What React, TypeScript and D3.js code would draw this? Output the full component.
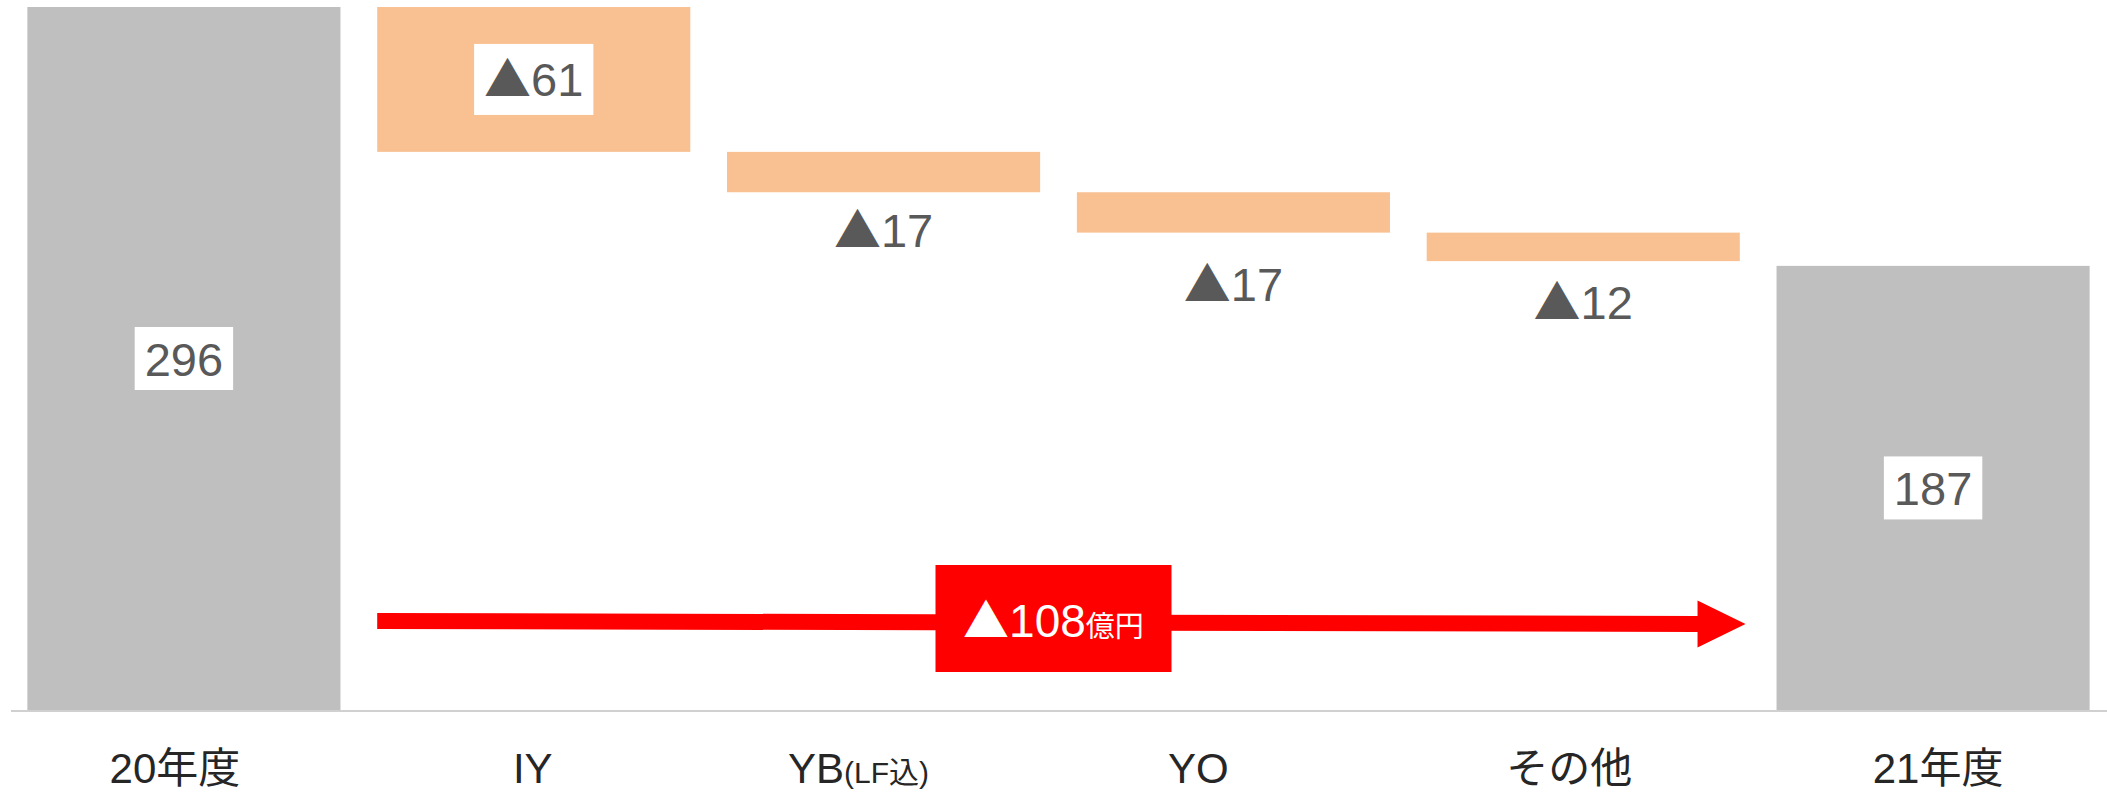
import React, { useEffect, useRef } from "react";
import * as d3 from "d3";

// ---- data ----
const categoryMain = ["20年度", "IY", "YB", "YO", "その他", "21年度"];
const categorySub = ["", "", "(LF込)", "", "", ""];
const startValue = 296;
const deltas = [-61, -17, -17, -12];
const endValue = 187;
const totalChange = -108;
const totalUnit = "億円";

// ---- layout tweaks (pixels) ----
const W = 2107;
const H = 792;
const labelDx = [-9, -1, -25, -35, -14, 5];
const deltaLabelDy = [0, 55, 68, 58];
const FONT = "'Liberation Sans', Arial, 'Noto Sans CJK JP', sans-serif";
const TRI_FONT = "'Noto Sans CJK JP', 'Liberation Sans', sans-serif";

function writeValue(t: any, v: number, size: number) {
  if (v < 0) {
    t.append("tspan").attr("font-family", TRI_FONT).attr("font-size", size).text("▲");
    t.append("tspan").attr("font-size", size).text(String(Math.abs(v)));
  } else {
    t.append("tspan").attr("font-size", size).text(String(v));
  }
}

export default function App() {
  const ref = useRef<SVGSVGElement>(null);

  useEffect(() => {
    const svg = d3.select(ref.current);
    svg.selectAll("*").remove();

    const x = d3
      .scaleBand<string>()
      .domain(categoryMain)
      .range([9, 2108])
      .paddingInner(0.105)
      .paddingOuter(0.0525);
    const y = d3.scaleLinear().domain([0, startValue]).range([710, 7]);
    const bw = x.bandwidth();

    type Seg = { cat: string; y0: number; y1: number; kind: string; value: number };
    const segs: Seg[] = [];
    segs.push({ cat: categoryMain[0], y0: 0, y1: startValue, kind: "total", value: startValue });
    let run = startValue;
    deltas.forEach((d, i) => {
      segs.push({ cat: categoryMain[i + 1], y0: run + d, y1: run, kind: "delta", value: d });
      run += d;
    });
    segs.push({ cat: categoryMain[5], y0: 0, y1: endValue, kind: "total", value: endValue });

    // baseline
    svg
      .append("line")
      .attr("x1", 11)
      .attr("x2", W)
      .attr("y1", y(0) + 1)
      .attr("y2", y(0) + 1)
      .attr("stroke", "#d0d0d0")
      .attr("stroke-width", 2);

    // bars
    svg
      .selectAll("rect.bar")
      .data(segs)
      .enter()
      .append("rect")
      .attr("class", "bar")
      .attr("x", (d) => x(d.cat)!)
      .attr("width", bw)
      .attr("y", (d) => y(d.y1))
      .attr("height", (d) => y(d.y0) - y(d.y1))
      .attr("fill", (d) => (d.kind === "total" ? "#bfbfbf" : "#f9c191"));

    // value labels
    segs.forEach((d, i) => {
      const cx = x(d.cat)! + bw / 2;
      const inside = d.kind === "total" || i === 1;
      const g = svg.append("g");
      const ty = inside ? (y(d.y0) + y(d.y1)) / 2 + 17 : y(d.y0) + deltaLabelDy[i - 1];
      const t = g
        .append("text")
        .attr("x", cx)
        .attr("y", ty)
        .attr("text-anchor", "middle")
        .attr("font-family", FONT)
        .attr("fill", "#595959");
      writeValue(t, d.value, 47);
      if (inside) {
        const bb = (t.node() as SVGTextElement).getBBox();
        const padX = 10;
        const boxH = d.kind === "delta" ? 71 : 63;
        g.insert("rect", "text")
          .attr("x", bb.x - padX)
          .attr("width", bb.width + padX * 2)
          .attr("y", (y(d.y0) + y(d.y1)) / 2 - boxH / 2)
          .attr("height", boxH)
          .attr("fill", "#ffffff");
      }
    });

    // category labels
    categoryMain.forEach((c, i) => {
      const t = svg
        .append("text")
        .attr("x", x(c)! + bw / 2 + labelDx[i])
        .attr("y", 783)
        .attr("text-anchor", "middle")
        .attr("font-family", FONT)
        .attr("font-size", 42)
        .attr("fill", "#262626");
      t.append("tspan").text(c);
      if (categorySub[i]) t.append("tspan").attr("font-size", 30).text(categorySub[i]);
    });

    // red arrow for total change
    const ax0 = x(categoryMain[1])!;
    const axTip = x(categoryMain[5])! - 31;
    const headLen = 48;
    const ay0 = 621;
    const ay1 = 624;
    const sh = 8;
    const hh = 23.5;
    const axBase = axTip - headLen;
    const pts: [number, number][] = [
      [ax0, ay0 - sh],
      [axBase, ay1 - sh],
      [axBase, ay1 - hh],
      [axTip, ay1],
      [axBase, ay1 + hh],
      [axBase, ay1 + sh],
      [ax0, ay0 + sh],
    ];
    svg
      .append("path")
      .attr("d", d3.line()(pts)! + "Z")
      .attr("fill", "#ff0000");

    const boxCx = 1053.5;
    svg
      .append("rect")
      .attr("x", boxCx - 118)
      .attr("y", 565)
      .attr("width", 236)
      .attr("height", 107)
      .attr("fill", "#ff0000");
    const tt = svg
      .append("text")
      .attr("x", boxCx)
      .attr("y", 637)
      .attr("text-anchor", "middle")
      .attr("font-family", FONT)
      .attr("fill", "#ffffff");
    writeValue(tt, totalChange, 46);
    tt.append("tspan").attr("font-size", 29).text(totalUnit);
  }, []);

  return (
    <svg
      ref={ref}
      width={W}
      height={H}
      style={{ position: "absolute", left: 0, top: 0, background: "#ffffff" }}
    />
  );
}
